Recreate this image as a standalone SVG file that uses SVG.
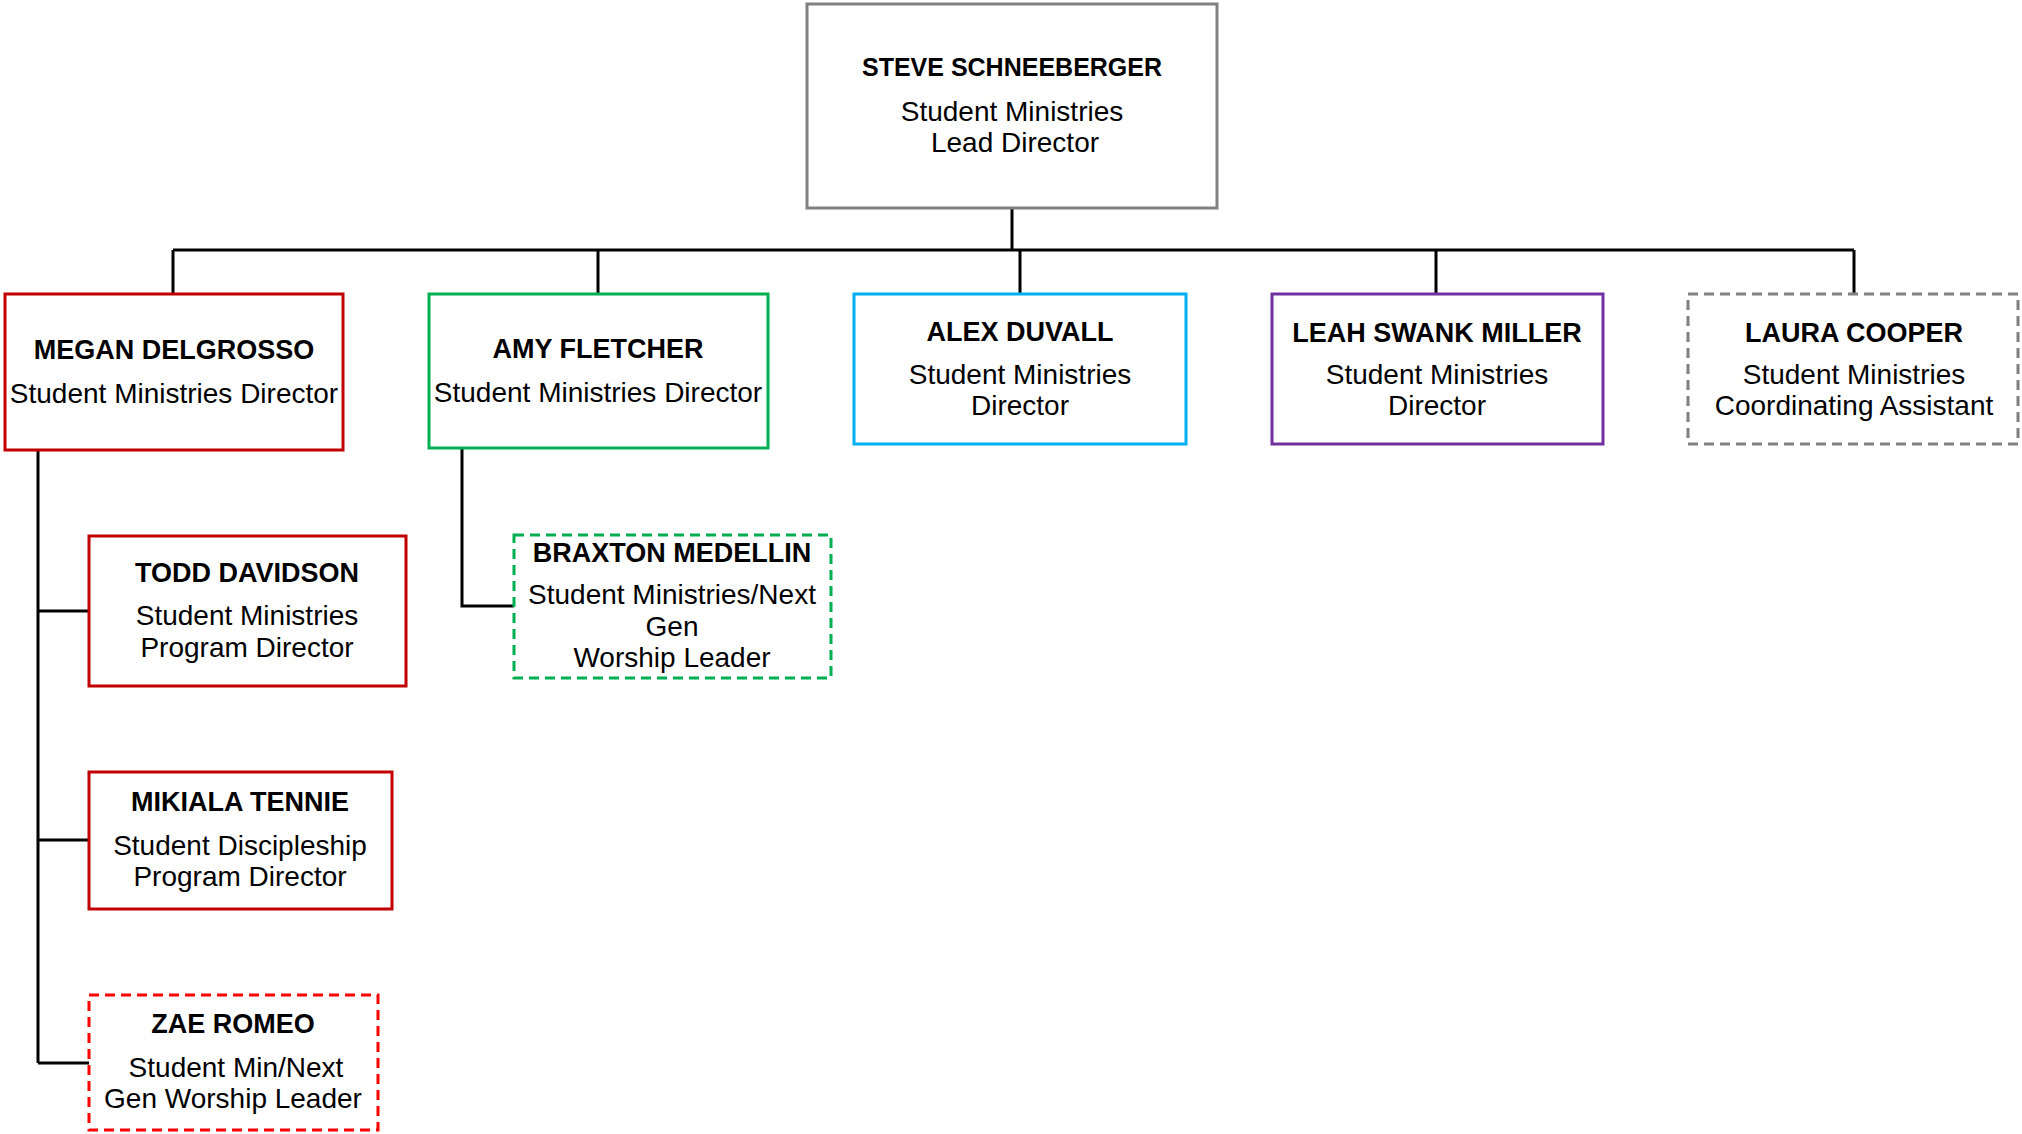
<svg xmlns="http://www.w3.org/2000/svg" width="2022" height="1134" viewBox="0 0 2022 1134">
<style>
.box{fill:#fff;stroke-width:3}
.dash{stroke-dasharray:10 6}
.name{font-family:"Liberation Sans",Arial,sans-serif;font-weight:bold;font-size:27px;text-anchor:middle;fill:#000}
.top{font-size:25px}
.sub{font-family:"Liberation Sans",Arial,sans-serif;font-size:28px;text-anchor:middle;fill:#000}
.conn{fill:none;stroke:#000;stroke-width:3}
</style>
<rect width="2022" height="1134" fill="#fff"/>
<g id="connectors" class="conn">
<path d="M1012 208V250M173 250H1854M173 250V294M598 250V294M1020 250V294M1436 250V294M1854 250V294"/>
<path d="M38 450V1063M38 611H89M38 840H89M38 1063H89"/>
<path d="M462 448V606H514"/>
</g>
<g id="steve">
<rect class="box" x="807" y="4" width="410" height="204" stroke="#808080"/>
<text class="name top" x="1012" y="76">STEVE SCHNEEBERGER</text>
<text class="sub" x="1012" y="121">Student Ministries</text>
<text class="sub" x="1015" y="152">Lead Director</text>
</g>
<g id="megan">
<rect class="box" x="5" y="294" width="338" height="156" stroke="#C00000"/>
<text class="name" x="174" y="359">MEGAN DELGROSSO</text>
<text class="sub" x="174" y="403">Student Ministries Director</text>
</g>
<g id="amy">
<rect class="box" x="429" y="294" width="339" height="154" stroke="#00B050"/>
<text class="name" x="598" y="358">AMY FLETCHER</text>
<text class="sub" x="598" y="402">Student Ministries Director</text>
</g>
<g id="alex">
<rect class="box" x="854" y="294" width="332" height="150" stroke="#00B0F0"/>
<text class="name" x="1020" y="341">ALEX DUVALL</text>
<text class="sub" x="1020" y="384">Student Ministries</text>
<text class="sub" x="1020" y="415">Director</text>
</g>
<g id="leah">
<rect class="box" x="1272" y="294" width="331" height="150" stroke="#7030A0"/>
<text class="name" x="1437" y="342">LEAH SWANK MILLER</text>
<text class="sub" x="1437" y="384">Student Ministries</text>
<text class="sub" x="1437" y="415">Director</text>
</g>
<g id="laura">
<rect class="box dash" x="1688" y="294" width="330" height="150" stroke="#808080"/>
<text class="name" x="1854" y="342">LAURA COOPER</text>
<text class="sub" x="1854" y="384">Student Ministries</text>
<text class="sub" x="1854" y="415">Coordinating Assistant</text>
</g>
<g id="todd">
<rect class="box" x="89" y="536" width="317" height="150" stroke="#C00000"/>
<text class="name" x="247" y="582">TODD DAVIDSON</text>
<text class="sub" x="247" y="625">Student Ministries</text>
<text class="sub" x="247" y="657">Program Director</text>
</g>
<g id="braxton">
<rect class="box dash" x="514" y="535" width="317" height="143" stroke="#00B050"/>
<text class="name" x="672" y="562">BRAXTON MEDELLIN</text>
<text class="sub" x="672" y="604">Student Ministries/Next</text>
<text class="sub" x="672" y="636">Gen</text>
<text class="sub" x="672" y="667">Worship Leader</text>
</g>
<g id="mikiala">
<rect class="box" x="89" y="772" width="303" height="137" stroke="#C00000"/>
<text class="name" x="240" y="811">MIKIALA TENNIE</text>
<text class="sub" x="240" y="855">Student Discipleship</text>
<text class="sub" x="240" y="886">Program Director</text>
</g>
<g id="zae">
<rect class="box dash" x="89" y="995" width="289" height="135" stroke="#FF0000"/>
<text class="name" x="233" y="1033">ZAE ROMEO</text>
<text class="sub" x="236" y="1077">Student Min/Next</text>
<text class="sub" x="233" y="1108">Gen Worship Leader</text>
</g>
</svg>
